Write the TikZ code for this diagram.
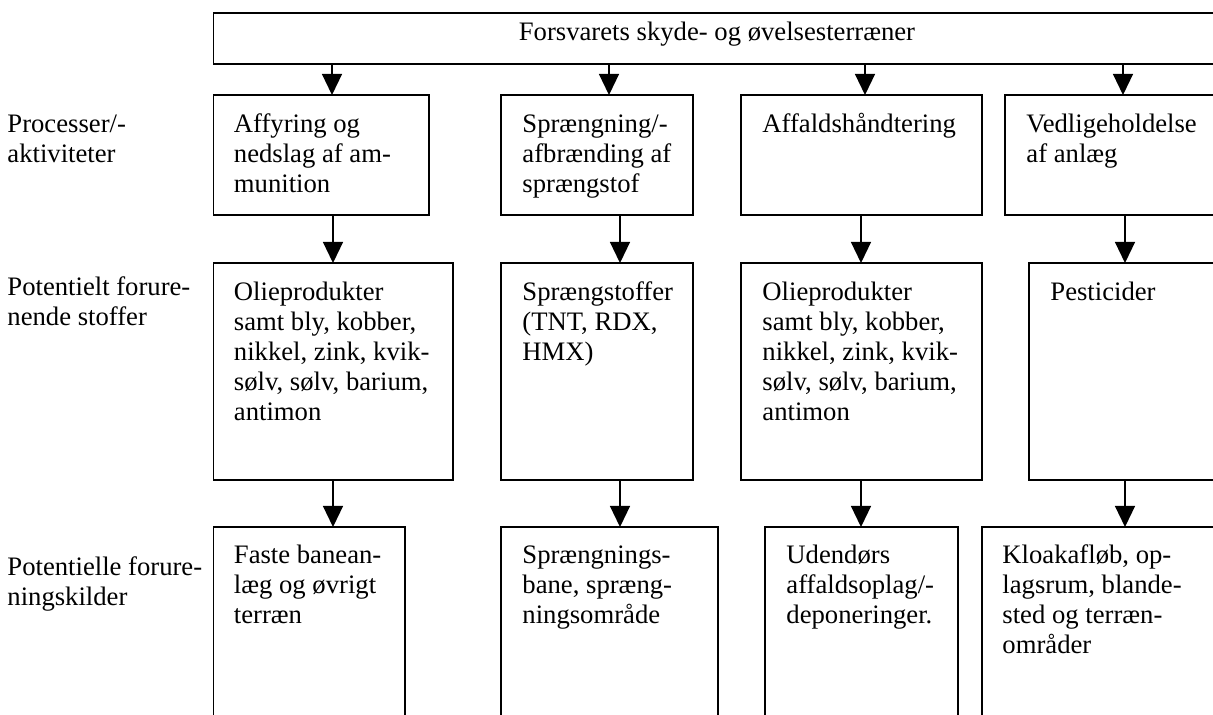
\documentclass[tikz,border=0pt]{standalone}
\usepackage{fontspec}
\setmainfont{Liberation Serif}
\usetikzlibrary{arrows.meta}
\newcommand\drawbox[5]{\node[box, minimum width={0.45pt*(#4-#2)}, minimum height={0.45pt*(#5-#3)}] (#1) at (#2,#3) {};}
\begin{document}
\begin{tikzpicture}[x=0.45pt,y=-0.45pt,
  box/.style={draw, line width=0.85pt, anchor=north west, inner sep=0pt, outer sep=0pt},
  txt/.style={anchor=base west, inner sep=0pt, font=\fontsize{12pt}{13.5pt}\selectfont},
  arr/.style={line width=0.7pt, -{Triangle[length=9.5pt,width=9pt]}}]
\useasboundingbox (0,0) rectangle (1213,714);
\clip (0,0) rectangle (1213,714);
% top bar
\drawbox{top}{213.5}{13}{1221}{64}
\node[font=\fontsize{12pt}{13.5pt}\selectfont, anchor=base, inner sep=0pt] (ttl) at (717,40) {Forsvarets skyde- og øvelsesterræner};
% row 1
\drawbox{ra}{213.5}{95}{429}{215}
\drawbox{rb}{501}{95}{693}{215}
\drawbox{rc}{741}{95}{982}{215}
\drawbox{rd}{1005}{95}{1225}{215}
% row 2
\drawbox{sa}{213.5}{263}{453}{480}
\drawbox{sb}{501}{263}{693}{480}
\drawbox{sc}{741}{263}{982}{480}
\drawbox{sd}{1029}{263}{1225}{480}
% row 3
\drawbox{ua}{213.5}{527}{405}{730}
\drawbox{ub}{501}{527}{718}{730}
\drawbox{uc}{765}{527}{958}{730}
\drawbox{ud}{982}{527}{1225}{730}
% arrow x positions
\coordinate (xa) at (332,0);
\coordinate (xb) at (609,0);
\coordinate (xc) at (865,0);
\coordinate (xd) at (1123,0);
\coordinate (ya) at (333,0);
\coordinate (yb) at (620,0);
\coordinate (yc) at (861,0);
\coordinate (yd) at (1125,0);
\draw[arr] (top.south -| xa) -- (ra.north -| xa);
\draw[arr] (top.south -| xb) -- (rb.north -| xb);
\draw[arr] (top.south -| xc) -- (rc.north -| xc);
\draw[arr] (top.south -| xd) -- (rd.north -| xd);
\draw[arr] (ra.south -| ya) -- (sa.north -| ya);
\draw[arr] (rb.south -| yb) -- (sb.north -| yb);
\draw[arr] (rc.south -| yc) -- (sc.north -| yc);
\draw[arr] (rd.south -| yd) -- (sd.north -| yd);
\draw[arr] (sa.south -| ya) -- (ua.north -| ya);
\draw[arr] (sb.south -| yb) -- (ub.north -| yb);
\draw[arr] (sc.south -| yc) -- (uc.north -| yc);
\draw[arr] (sd.south -| yd) -- (ud.north -| yd);
% left labels
\node[txt] (la) at (7,132) {\parbox[t]{120pt}{Processer/-\\aktiviteter}};
\node[txt] (lb) at (7,295) {\parbox[t]{120pt}{Potentielt forure-\\nende stoffer}};
\node[txt] (lc) at (7,575) {\parbox[t]{120pt}{Potentielle forure-\\ningskilder}};
% row 1 texts
\node[txt] (tra) at (233.5,132) {\parbox[t]{120pt}{Affyring og\\nedslag af am-\\munition}};
\node[txt] (trb) at (522,132) {\parbox[t]{120pt}{Sprængning/-\\afbrænding af\\sprængstof}};
\node[txt] (trc) at (762,132) {\parbox[t]{120pt}{Affaldshåndtering}};
\node[txt] (trd) at (1026,132) {\parbox[t]{120pt}{Vedligeholdelse\\af anlæg}};
% row 2 texts
\node[txt] (tsa) at (233.5,300) {\parbox[t]{120pt}{Olieprodukter\\samt bly, kobber,\\nikkel, zink, kvik-\\sølv, sølv, barium,\\antimon}};
\node[txt] (tsb) at (522,300) {\parbox[t]{120pt}{Sprængstoffer\\(TNT, RDX,\\HMX)}};
\node[txt] (tsc) at (762,300) {\parbox[t]{120pt}{Olieprodukter\\samt bly, kobber,\\nikkel, zink, kvik-\\sølv, sølv, barium,\\antimon}};
\node[txt] (tsd) at (1050,300) {\parbox[t]{120pt}{Pesticider}};
% row 3 texts
\node[txt] (tua) at (233.5,563) {\parbox[t]{120pt}{Faste banean-\\læg og øvrigt\\terræn}};
\node[txt] (tub) at (522,563) {\parbox[t]{120pt}{Sprængnings-\\bane, spræng-\\ningsområde}};
\node[txt] (tuc) at (786,563) {\parbox[t]{120pt}{Udendørs\\affaldsoplag/-\\deponeringer.}};
\node[txt] (tud) at (1002,563) {\parbox[t]{120pt}{Kloakafløb, op-\\lagsrum, blande-\\sted og terræn-\\områder}};
\end{tikzpicture}
\end{document}
